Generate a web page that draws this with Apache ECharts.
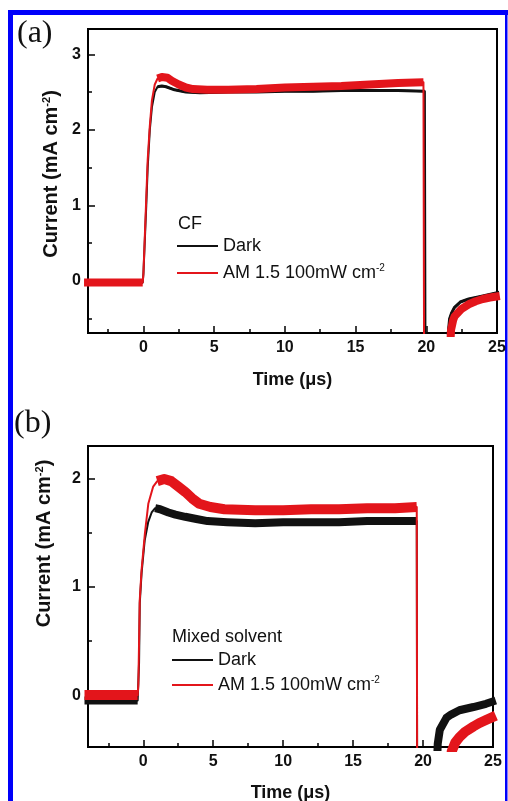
<!DOCTYPE html>
<html>
<head>
<meta charset="utf-8">
<script src="https://cdn.jsdelivr.net/npm/echarts@6/dist/echarts.min.js"></script>
<style>
  html, body { margin: 0; padding: 0; background: #fff; }
  #chart { width: 508px; height: 801px; }
</style>
</head>
<body>
<div id="chart"></div>
<script>
// Transient photocurrent: (a) CF film, (b) mixed-solvent film, dark vs AM 1.5 illumination

// Tick positions
const timeTicks = [0, 5, 10, 15, 20, 25];
const timeMinorTicks = [-2.5, 2.5, 7.5, 12.5, 17.5, 22.5];
const cfCurrentTicks = [0, 1, 2, 3];
const cfCurrentMinorTicks = [-0.5, 0.5, 1.5, 2.5];
const mixCurrentTicks = [0, 1, 2];
const mixCurrentMinorTicks = [0.5, 1.5];

const seriesNames = ['Dark', 'AM 1.5 100mW cm-2'];
const panelLabels = ['(a)', '(b)'];
const filmLabels = ['CF', 'Mixed solvent'];

// [time (µs), current (mA cm^-2)]
const cfDark = [
  [-4.2, -0.02], [-0.05, -0.02], [0.0, 0.1], [0.1, 0.55], [0.2, 1.0], [0.3, 1.5],
  [0.45, 2.0], [0.6, 2.3], [0.8, 2.5], [1.0, 2.57], [1.3, 2.58], [1.6, 2.57],
  [2.2, 2.53], [3.0, 2.5], [4.0, 2.49], [6.0, 2.5], [8.0, 2.5], [10.0, 2.51],
  [12.0, 2.51], [14.0, 2.52], [16.0, 2.52], [18.0, 2.52], [19.9, 2.51], [19.95, -1.5],
  [21.45, -1.2], [21.55, -0.7], [21.65, -0.5], [21.8, -0.42], [22.0, -0.35],
  [22.4, -0.28], [23.0, -0.24], [24.0, -0.2], [25.2, -0.15]
];
const cfLight = [
  [-4.2, -0.02], [-0.05, -0.02], [0.0, 0.1], [0.1, 0.6], [0.2, 1.1], [0.3, 1.6],
  [0.45, 2.05], [0.6, 2.39], [0.8, 2.6], [1.0, 2.68], [1.3, 2.7], [1.7, 2.69],
  [2.0, 2.65], [2.5, 2.6], [3.0, 2.56], [3.5, 2.54], [4.5, 2.53], [6.0, 2.53],
  [8.0, 2.54], [10.0, 2.56], [12.0, 2.57], [14.0, 2.58], [16.0, 2.6], [18.0, 2.62],
  [19.8, 2.63], [19.85, -1.5], [21.6, -1.2], [21.75, -0.65], [21.9, -0.52],
  [22.0, -0.47], [22.5, -0.37], [23.0, -0.31], [23.5, -0.27], [24.0, -0.24],
  [24.5, -0.22], [25.2, -0.2]
];
const mixDark = [
  [-4.2, -0.05], [-0.4, -0.05], [-0.3, 0.3], [-0.25, 0.85], [-0.12, 1.13], [0.1, 1.43],
  [0.35, 1.6], [0.6, 1.69], [0.85, 1.73], [1.2, 1.72], [1.8, 1.69], [2.3, 1.67],
  [3.0, 1.65], [3.8, 1.63], [4.6, 1.61], [6.0, 1.6], [8.0, 1.59], [10.0, 1.6],
  [12.0, 1.6], [14.0, 1.6], [16.0, 1.61], [18.0, 1.61], [19.55, 1.61], [19.58, -1.0],
  [20.95, -0.8], [21.05, -0.45], [21.2, -0.32], [21.67, -0.21], [22.0, -0.18],
  [22.6, -0.14], [23.6, -0.11], [24.5, -0.08], [25.2, -0.05]
];
const mixLight = [
  [-4.2, 0.0], [-0.4, 0.0], [-0.35, 0.1], [-0.25, 0.88], [-0.12, 1.16], [0.12, 1.5],
  [0.36, 1.77], [0.71, 1.93], [1.0, 1.98], [1.5, 2.0], [2.0, 1.98], [2.5, 1.93],
  [3.0, 1.88], [3.5, 1.82], [4.0, 1.77], [4.8, 1.74], [5.8, 1.72], [8.0, 1.71],
  [10.0, 1.71], [12.0, 1.72], [14.0, 1.72], [16.0, 1.73], [18.0, 1.73], [19.55, 1.74],
  [19.58, -1.0], [21.9, -0.8], [22.05, -0.52], [22.3, -0.44], [22.6, -0.39],
  [23.0, -0.34], [23.6, -0.29], [24.0, -0.26], [24.5, -0.23], [25.2, -0.19]
];

const SANS = '"Liberation Sans", Arial, Helvetica, sans-serif';
const SERIF = '"Liberation Serif", "Times New Roman", serif';
const INK = '#111';
const RED = '#e3151b';
const BLACK = '#111';

// Noisy stretches of each trace are drawn as a wide band, the switching edges as a thin line
const traces = [
  { panel: 0, data: cfDark,   name: seriesNames[0], color: BLACK, band: 3,
    windows: [[-5, -0.05], [1.0, 19.9], [21.4, 26]] },
  { panel: 0, data: cfLight,  name: seriesNames[1], color: RED,   band: 8,
    windows: [[-5, -0.05], [1.0, 19.8], [21.55, 26]] },
  { panel: 1, data: mixDark,  name: seriesNames[0], color: BLACK, band: 8,
    windows: [[-5, -0.4], [0.85, 19.55], [20.9, 26]] },
  { panel: 1, data: mixLight, name: seriesNames[1], color: RED,   band: 10,
    windows: [[-5, -0.4], [1.0, 19.55], [21.85, 26]] }
];

// three axes per direction and panel: labelled axis, major ticks, minor ticks
const AXES_PER_PANEL = 3;

const series = [];
// dark traces first so the illuminated ones sit on top
[0, 2, 1, 3].forEach(i => {
  const tr = traces[i];
  const base = {
    type: 'line', name: tr.name,
    xAxisIndex: tr.panel * AXES_PER_PANEL, yAxisIndex: tr.panel * AXES_PER_PANEL,
    symbol: 'none', showSymbol: false, silent: true, animation: false, clip: true,
    itemStyle: { color: tr.color }
  };
  series.push(Object.assign({}, base, {
    data: tr.data, lineStyle: { color: tr.color, width: 2, join: 'round' }
  }));
  tr.windows.forEach(w => {
    series.push(Object.assign({}, base, {
      data: tr.data.filter(p => p[0] >= w[0] && p[0] <= w[1]),
      lineStyle: { color: tr.color, width: tr.band, join: 'round', cap: 'butt' }
    }));
  });
});

const grids = [
  { left: 88, top: 29, width: 409, height: 304 },
  { left: 88, top: 446, width: 405, height: 301 }
];
const xRanges = [[-3.92, 25], [-3.95, 25]];
const yRanges = [[-0.69, 3.335], [-0.48, 2.305]];
const yTicks = [cfCurrentTicks, mixCurrentTicks];
const yMinorTicks = [cfCurrentMinorTicks, mixCurrentMinorTicks];

function tickAxis(p, position, range, values, length) {
  return {
    type: 'value', gridIndex: p, position: position, offset: 0,
    min: range[0], max: range[1],
    axisLine: { show: false, onZero: false },
    axisTick: { show: true, inside: true, length: length, customValues: values,
                lineStyle: { color: '#000', width: 1.5 } },
    axisLabel: { show: false }, splitLine: { show: false }, minorTick: { show: false }
  };
}

const xAxis = [];
const yAxis = [];
[0, 1].forEach(p => {
  xAxis.push({
    type: 'value', gridIndex: p, position: 'bottom', offset: 0,
    min: xRanges[p][0], max: xRanges[p][1],
    name: 'Time (\u03bcs)', nameLocation: 'middle', nameGap: p === 0 ? 38 : 37,
    nameTextStyle: { fontFamily: SANS, fontWeight: 'bold', fontSize: 18, color: INK },
    axisLine: { show: true, onZero: false, lineStyle: { color: '#000', width: 2 } },
    axisTick: { show: false },
    axisLabel: { show: true, customValues: timeTicks, margin: 7,
                 fontFamily: SANS, fontWeight: 'bold', fontSize: 16, color: INK },
    splitLine: { show: false }, minorTick: { show: false }
  });
  xAxis.push(tickAxis(p, 'bottom', xRanges[p], timeTicks, 7));
  xAxis.push(tickAxis(p, 'bottom', xRanges[p], timeMinorTicks, 4));

  yAxis.push({
    type: 'value', gridIndex: p, position: 'left', offset: 0,
    min: yRanges[p][0], max: yRanges[p][1],
    name: 'Current (mA cm{s|-2})', nameLocation: 'middle', nameRotate: 90,
    nameGap: p === 0 ? 26 : 34,
    nameTextStyle: {
      fontFamily: SANS, fontWeight: 'bold', fontSize: 20, color: INK,
      padding: p === 0 ? [0, 0, 0, 14] : [0, 0, 0, 106],
      rich: { s: { fontFamily: SANS, fontWeight: 'bold', fontSize: 11, color: INK,
                   verticalAlign: 'top', lineHeight: 12 } }
    },
    axisLine: { show: true, onZero: false, lineStyle: { color: '#000', width: 2 } },
    axisTick: { show: false },
    axisLabel: { show: true, customValues: yTicks[p], margin: 7,
                 fontFamily: SANS, fontWeight: 'bold', fontSize: 16, color: INK },
    splitLine: { show: false }, minorTick: { show: false }
  });
  yAxis.push(tickAxis(p, 'left', yRanges[p], yTicks[p], 7));
  yAxis.push(tickAxis(p, 'left', yRanges[p], yMinorTicks[p], 4));
});

const legendText = {
  fontFamily: SANS, fontSize: 18, color: INK, lineHeight: 20,
  rich: { sup: { fontFamily: SANS, fontSize: 10, color: INK, verticalAlign: 'top', lineHeight: 11 } }
};
const legendFormatter = name => name.endsWith('cm-2') ? name.slice(0, -2) + '{sup|-2}' : name;
const legends = [
  { left: 177, top: 236, itemGap: 7 },
  { left: 172, top: 650, itemGap: 5 }
].map(pos => Object.assign({
  orient: 'vertical', padding: 0, icon: 'rect', itemWidth: 41, itemHeight: 2,
  selectedMode: false, data: seriesNames, formatter: legendFormatter,
  itemStyle: { borderWidth: 0 }, textStyle: legendText
}, pos));

const chart = echarts.init(document.getElementById('chart'), null, { renderer: 'canvas' });
chart.setOption({
  animation: false,
  backgroundColor: '#fff',
  title: [
    { text: panelLabels[0], left: 17, top: 18, padding: 0,
      textStyle: { fontFamily: SERIF, fontWeight: 'normal', fontSize: 32, color: INK } },
    { text: panelLabels[1], left: 14, top: 408, padding: 0,
      textStyle: { fontFamily: SERIF, fontWeight: 'normal', fontSize: 32, color: INK } },
    { text: filmLabels[0], left: 178, top: 215, padding: 0,
      textStyle: { fontFamily: SANS, fontWeight: 'normal', fontSize: 18, lineHeight: 18, color: INK } },
    { text: filmLabels[1], left: 172, top: 628, padding: 0,
      textStyle: { fontFamily: SANS, fontWeight: 'normal', fontSize: 18, lineHeight: 18, color: INK } }
  ],
  grid: grids.map(g => Object.assign({
    show: true, borderColor: '#000', borderWidth: 2, backgroundColor: 'transparent',
    containLabel: false, outerBoundsMode: 'none'
  }, g)),
  legend: legends,
  xAxis: xAxis,
  yAxis: yAxis,
  series: series,
  graphic: [
    { type: 'rect', shape: { x: 8, y: 10, width: 5, height: 791 }, style: { fill: '#0000fa' }, silent: true },
    { type: 'rect', shape: { x: 8, y: 10, width: 500, height: 5 }, style: { fill: '#0000fa' }, silent: true },
    { type: 'rect', shape: { x: 505, y: 10, width: 2.5, height: 791 }, style: { fill: '#0000fa' }, silent: true }
  ]
});
</script>
</body>
</html>
